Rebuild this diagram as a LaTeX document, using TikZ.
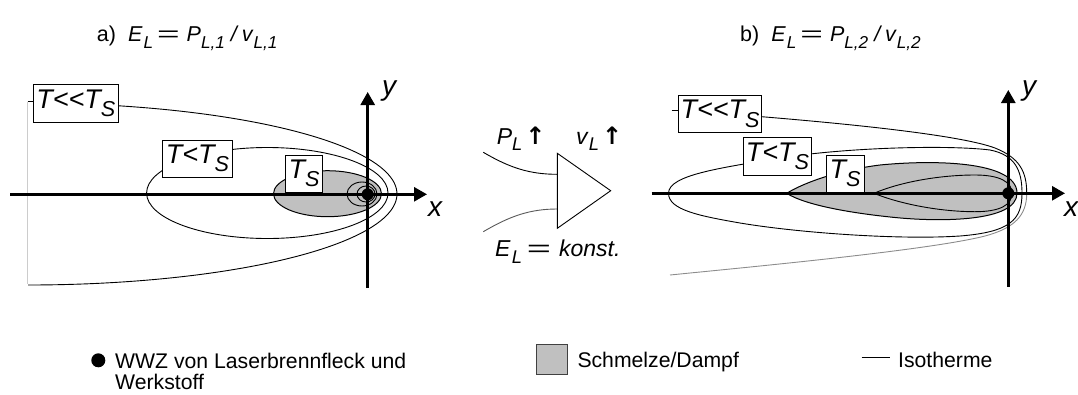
\documentclass[tikz,border=0pt]{standalone}
\usepackage{fontspec}
\usepackage{graphicx}
\setmainfont{Liberation Sans}
\newfontfamily\symfont{DejaVu Sans}
\usetikzlibrary{arrows.meta}
\definecolor{melt}{HTML}{C0C0C0}
\newcommand\lsub[1]{\raisebox{-0.3em}{\scalebox{0.8}{#1}}}
\newcommand\weq{\scalebox{1.8}[1]{=}}
\newcommand\upar{{\fontsize{24}{24}\symfont\bfseries ↑}}
\newcommand\dblless{<\kern0pt<}
\tikzset{
  axis/.style={line width=2.6pt, -{Triangle[length=13pt,width=14pt]}},
  iso/.style={line width=0.9pt},
  meltarea/.style={line width=1pt, fill=melt, draw=black},
  tbox/.style={draw, line width=0.9pt, fill=white, inner sep=0pt,
    font=\fontsize{27}{30}\selectfont\itshape},
  ttl/.style={anchor=base west, inner sep=0pt, font=\fontsize{21.5}{25}\selectfont},
  mid/.style={anchor=base west, inner sep=0pt, font=\fontsize{23}{27}\selectfont},
  axl/.style={anchor=base, inner sep=0pt, font=\fontsize{28}{32}\selectfont\itshape},
  leg/.style={anchor=base west, inner sep=0pt, font=\fontsize{21.2}{25}\selectfont},
  dotnode/.style={circle, fill=black, inner sep=0pt, minimum size=12pt},
}
\begin{document}
\begin{tikzpicture}[x=1pt, y=-1pt]
\useasboundingbox (0,0) rectangle (1078,394);

% ---------- titles ----------
\node[ttl] (ta) at (96.7,41.7) {a)\hspace{12pt}\textit{E}\hspace{1pt}\lsub{\textit{L}}\hspace{4pt}\weq\hspace{7pt}\textit{P}\lsub{\textit{L,1}}\hspace{6pt}\textit{/}\hspace{3pt}\textit{v}\lsub{\textit{L,1}}};
\node[ttl] (tb) at (740,41.7) {b)\hspace{12pt}\textit{E}\hspace{1pt}\lsub{\textit{L}}\hspace{4pt}\weq\hspace{7pt}\textit{P}\lsub{\textit{L,2}}\hspace{6pt}\textit{/}\hspace{3pt}\textit{v}\lsub{\textit{L,2}}};

% ---------- diagram a ----------
\coordinate (a-o) at (367.7,194.3);
% T<<Ts isotherm
\draw[iso] plot[domain=76:-90, samples=90, smooth, variable=\t] ({28+369*cos(\t)}, {194-91*sin(\t)});
\coordinate (a-tick) at (27.7,101.7);
\coordinate (a-bot) at (27.7,284.3);
\draw[line width=0.9pt, color=black!20] (a-tick) -- (a-bot);
% T<Ts isotherm
\draw[iso] (267.3,193) ellipse [x radius=120.7pt, y radius=45.5pt];
% melt
\draw[meltarea] (327.5,193.7) ellipse [x radius=54pt, y radius=23pt];
% small isotherms
\draw[iso] (362,194) ellipse [x radius=15pt, y radius=12pt];
\draw[iso] (366,194) ellipse [x radius=9pt, y radius=8pt];
% axes
\draw[axis] (10,194.3) -- (427,194.3);
\draw[axis] (367.7,288) -- (367.7,92);
\node[axl] (a-ylab) at (389,95) {y};
\node[axl] (a-xlab) at (435,216.7) {x};
\node[dotnode] (a-dot) at (a-o) {};
% labels
\node[tbox, minimum width=85pt, minimum height=38pt] (a-b1) at (75.8,103.3) {T\dblless T\lsub{S}};
\node[tbox, minimum width=69.6pt, minimum height=37.3pt] (a-b2) at (197.5,158.7) {T<T\lsub{S}};
\node[tbox, minimum width=36.6pt, minimum height=37.3pt] (a-b3) at (304,173.7) {T\lsub{S}};
\draw[iso] (a-tick) -- (a-tick -| a-b1.west);

% ---------- middle ----------
\coordinate (tri-top) at (557.3,153.3);
\coordinate (tri-tip) at (610.7,190.7);
\coordinate (tri-bot) at (557.3,228.3);
\coordinate (in1) at (557.3,174.3);
\coordinate (in2) at (557.3,209);
\coordinate (src1) at (483.3,152.3);
\coordinate (src2) at (483.3,231.7);
\draw[iso] (src1) .. controls (510,168) and (530,174.3) .. (in1);
\draw[iso, color=black!65] (src2) .. controls (510,216) and (530,209) .. (in2);
\draw[iso, fill=white] (tri-top) -- (tri-tip) -- (tri-bot) -- cycle;
\node[mid] (pl) at (496.7,144) {\textit{P}\lsub{\textit{L}}\hspace{3pt}\upar};
\node[mid] (vl) at (576,144) {\textit{v}\lsub{\textit{L}}\hspace{3pt}\upar};
\node[mid] (el) at (495,256.7) {\textit{E}\hspace{1pt}\lsub{\textit{L}}\hspace{5pt}\weq\hspace{8pt}\textit{konst.}};

% ---------- diagram b ----------
\coordinate (b-o) at (1008.3,193.3);
\coordinate (b-c1) at (761.7,116.7);
\coordinate (b-r) at (1026.7,193.3);
\coordinate (b-end) at (670,275);
% T<<Ts isotherm
\draw[iso] (b-c1) .. controls (850,124) and (960,135) .. (995,148)
  .. controls (1020,158) and (1026.7,172) .. (b-r);
\draw[iso, color=black!45] (b-r) .. controls (1026.7,215) and (1015,228) .. (985,236)
  .. controls (930,250) and (760,266) .. (b-end);
% T<Ts isotherm
\draw[iso] (668.5,193.3) .. controls (668.5,175) and (720,168) .. (780,158)
  .. controls (850,147) and (950,145) .. (990,150)
  .. controls (1015,155) and (1022,170) .. (1022,193.3)
  .. controls (1022,220) and (1010,232) .. (960,236)
  .. controls (900,240) and (800,233) .. (740,223)
  .. controls (700,216) and (668.5,210) .. (668.5,193.3) -- cycle;
% melt
\draw[meltarea] (786.7,193.3) .. controls (805,182) and (840,170) .. (880,165)
  .. controls (930,160) and (1017,160) .. (1017,193.3)
  .. controls (1017,222) and (940,222) .. (895,217.5)
  .. controls (850,213) and (805,205) .. (786.7,193.3) -- cycle;
% inner isotherm
\draw[iso] (874,193.3) .. controls (900,182) and (940,175) .. (975,175)
  .. controls (1000,175) and (1012,182) .. (1012,193.3)
  .. controls (1012,205) and (1000,211.7) .. (975,211.7)
  .. controls (940,211.7) and (900,204) .. (874,193.3) -- cycle;
% axes
\draw[axis] (651.7,193.3) -- (1065,193.3);
\draw[axis] (1008.3,286.7) -- (1008.3,90);
\node[axl] (b-ylab) at (1029,95) {y};
\node[axl] (b-xlab) at (1071,216.7) {x};
\node[dotnode] (b-dot) at (b-o) {};
% labels
\node[tbox, minimum width=83pt, minimum height=37.7pt] (b-b1) at (720,113.8) {T\dblless T\lsub{S}};
\node[tbox, minimum width=68.4pt, minimum height=37.7pt] (b-b2) at (777.5,156.2) {T<T\lsub{S}};
\node[tbox, minimum width=38pt, minimum height=37.3pt] (b-b3) at (845,173.7) {T\lsub{S}};
\coordinate (b-tick) at (671.7,110);
\draw[iso] (b-tick) -- (b-tick -| b-b1.west);

% ---------- legend ----------
\node[circle, fill=black, inner sep=0pt, minimum size=14pt] (leg-dot) at (98.3,360.3) {};
\node[leg] (leg-t1) at (115,368.3) {WWZ von Laserbrennfleck und};
\node[leg] (leg-t2) at (115,389.5) {Werkstoff};
\node[draw=black!75, fill=melt, line width=1pt, inner sep=0pt, minimum width=30.6pt, minimum height=29.3pt] (leg-sq) at (552,359.6) {};
\node[leg] (leg-t3) at (577.3,367.3) {Schmelze/Dampf};
\coordinate (leg-l1) at (861.7,357.7);
\coordinate (leg-l2) at (890,357.7);
\draw[iso] (leg-l1) -- (leg-l2);
\node[leg] (leg-t4) at (898,367.3) {Isotherme};
\end{tikzpicture}
\end{document}
